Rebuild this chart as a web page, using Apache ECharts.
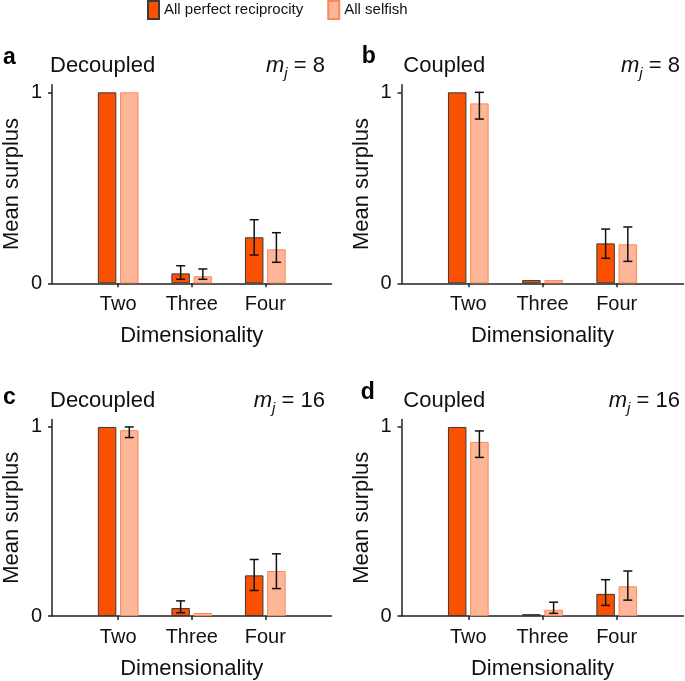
<!DOCTYPE html>
<html>
<head>
<meta charset="utf-8">
<script src="https://cdn.jsdelivr.net/npm/echarts@6/dist/echarts.min.js"></script>
<style>
  html, body { margin: 0; padding: 0; background: #fff; }
  #chart { width: 685px; height: 681px; }
</style>
</head>
<body>
<div id="chart"></div>
<script>
// ---------------- data ----------------
const categories = ['Two', 'Three', 'Four'];
const catPos = [1, 2, 3];
const seriesNames = ['All perfect reciprocity', 'All selfish'];

// panel a  (Decoupled, m_j = 8)
const aRecip     = [1.000, 0.052, 0.241];
const aRecipLow  = [null,  0.021, 0.148];
const aRecipHigh = [null,  0.092, 0.333];
const aSelf      = [1.000, 0.037, 0.178];
const aSelfLow   = [null,  0.021, 0.110];
const aSelfHigh  = [null,  0.075, 0.265];

// panel b  (Coupled, m_j = 8)
const bRecip     = [1.000, 0.017, 0.209];
const bRecipLow  = [null,  null,  0.131];
const bRecipHigh = [null,  null,  0.284];
const bSelf      = [0.942, 0.017, 0.204];
const bSelfLow   = [0.860, null,  0.115];
const bSelfHigh  = [1.000, null,  0.295];

// panel c  (Decoupled, m_j = 16)
const cRecip     = [1.000, 0.042, 0.215];
const cRecipLow  = [null,  0.017, 0.135];
const cRecipHigh = [null,  0.080, 0.299];
const cSelf      = [0.983, 0.016, 0.238];
const cSelfLow   = [0.944, null,  0.145];
const cSelfHigh  = [1.000, null,  0.329];

// panel d  (Coupled, m_j = 16)
const dRecip     = [1.000, 0.010, 0.117];
const dRecipLow  = [null,  null,  0.056];
const dRecipHigh = [null,  null,  0.192];
const dSelf      = [0.921, 0.033, 0.157];
const dSelfLow   = [0.839, 0.014, 0.084];
const dSelfHigh  = [0.979, 0.073, 0.238];

const panelLetters = ['a', 'b', 'c', 'd'];
const panelConditions = ['Decoupled', 'Coupled', 'Decoupled', 'Coupled'];
const panelMj = ['8', '8', '16', '16'];
const yTickValues = [0, 1];

const panels = [
  { recip: aRecip, recipLow: aRecipLow, recipHigh: aRecipHigh, self: aSelf, selfLow: aSelfLow, selfHigh: aSelfHigh },
  { recip: bRecip, recipLow: bRecipLow, recipHigh: bRecipHigh, self: bSelf, selfLow: bSelfLow, selfHigh: bSelfHigh },
  { recip: cRecip, recipLow: cRecipLow, recipHigh: cRecipHigh, self: cSelf, selfLow: cSelfLow, selfHigh: cSelfHigh },
  { recip: dRecip, recipLow: dRecipLow, recipHigh: dRecipHigh, self: dSelf, selfLow: dSelfLow, selfHigh: dSelfHigh }
];

// ---------------- style / layout ----------------
const FONT = '"Liberation Sans", Arial, Helvetica, sans-serif';
const TXT = '#111';
const AX = '#222';
const DARK = '#FB5000';
const DARK_BORDER = '#3a3a3a';
const LIGHT = '#FDB698';
const LIGHT_BORDER = '#F98A58';
const BAR_W = 18.5;
const BAR_GAP = 0.2;
const BAR_OFFSET = (BAR_W * (1 + BAR_GAP)) / 2;
const CAP = 4.5;

const gridDefs = [
  { left: 49.5,  top: 84.7,  width: 282, height: 198.6 },
  { left: 401.5, top: 84.7,  width: 282, height: 198.6 },
  { left: 49.5,  top: 419.4, width: 282, height: 198.3 },
  { left: 401.5, top: 419.4, width: 282, height: 198.3 }
];

const titlePos = [
  { letter: [3, 57.5],     cond: [50, 66],     mj: [325, 66] },
  { letter: [361.7, 56.5], cond: [403.3, 66],  mj: [680, 66] },
  { letter: [3, 397.5],    cond: [50, 401],    mj: [325, 401] },
  { letter: [360.7, 393],  cond: [403.3, 401], mj: [680, 401] }
];

function renderErr(params, api) {
  const x = api.value(0), lo = api.value(1), hi = api.value(2), side = api.value(3);
  const pTop = api.coord([x, hi]);
  const pBot = api.coord([x, lo]);
  const cx = pTop[0] + side * BAR_OFFSET;
  const st = { stroke: '#111', lineWidth: 1.5 };
  return {
    type: 'group',
    children: [
      { type: 'line', shape: { x1: cx, y1: pTop[1], x2: cx, y2: pBot[1] }, style: st },
      { type: 'line', shape: { x1: cx - CAP, y1: pTop[1], x2: cx + CAP, y2: pTop[1] }, style: st },
      { type: 'line', shape: { x1: cx - CAP, y1: pBot[1], x2: cx + CAP, y2: pBot[1] }, style: st }
    ]
  };
}

const grid = [], xAxis = [], yAxis = [], series = [], graphic = [];

panels.forEach((p, i) => {
  grid.push(Object.assign({ containLabel: false }, gridDefs[i]));
  xAxis.push({
    type: 'value', gridIndex: i, min: 0.1, max: 3.9,
    splitLine: { show: false },
    axisLine: { show: true, lineStyle: { color: AX, width: 1.5 } },
    axisTick: { show: true, customValues: catPos, length: 4, lineStyle: { color: AX, width: 1.5 } },
    axisLabel: {
      customValues: catPos, margin: 11,
      formatter: v => categories[catPos.indexOf(Math.round(v))] || '',
      fontSize: 20, fontFamily: FONT, color: TXT
    },
    name: 'Dimensionality', nameLocation: 'middle', nameGap: 42,
    nameTextStyle: { fontSize: 22, fontFamily: FONT, color: TXT }
  });
  yAxis.push({
    type: 'value', gridIndex: i, min: 0, max: 1.04,
    splitLine: { show: false },
    axisLine: { show: true, lineStyle: { color: AX, width: 1.5 } },
    axisTick: { show: true, customValues: yTickValues, length: 4, lineStyle: { color: AX, width: 1.5 } },
    axisLabel: { customValues: yTickValues, margin: 10, fontSize: 20, fontFamily: FONT, color: TXT },
    name: 'Mean surplus', nameLocation: 'middle', nameGap: 29,
    nameTextStyle: { fontSize: 22, fontFamily: FONT, color: TXT }
  });

  series.push({
    type: 'bar', name: seriesNames[0], xAxisIndex: i, yAxisIndex: i,
    barWidth: BAR_W, barGap: (BAR_GAP * 100) + '%',
    data: catPos.map((x, k) => [x, p.recip[k]]),
    itemStyle: { color: DARK, borderColor: DARK_BORDER, borderWidth: 1 },
    silent: true
  });
  series.push({
    type: 'bar', name: seriesNames[1], xAxisIndex: i, yAxisIndex: i,
    barWidth: BAR_W, barGap: (BAR_GAP * 100) + '%',
    data: catPos.map((x, k) => [x, p.self[k]]),
    itemStyle: { color: LIGHT, borderColor: LIGHT_BORDER, borderWidth: 1 },
    silent: true
  });
  const errData = [];
  catPos.forEach((x, k) => {
    if (p.recipLow[k] != null) errData.push([x, p.recipLow[k], p.recipHigh[k], -1]);
    if (p.selfLow[k] != null) errData.push([x, p.selfLow[k], p.selfHigh[k], 1]);
  });
  series.push({
    type: 'custom', xAxisIndex: i, yAxisIndex: i, z: 10, silent: true,
    renderItem: renderErr, data: errData,
    encode: { x: 0, y: [1, 2] }
  });

  const tp = titlePos[i];
  graphic.push({
    type: 'text', x: tp.letter[0], y: tp.letter[1],
    style: { text: panelLetters[i], fontSize: 23, fontWeight: 'bold', fontFamily: FONT, fill: '#000', align: 'left', verticalAlign: 'middle' }
  });
  graphic.push({
    type: 'text', x: tp.cond[0], y: tp.cond[1],
    style: { text: panelConditions[i], fontSize: 22, fontFamily: FONT, fill: TXT, align: 'left', verticalAlign: 'middle' }
  });
  graphic.push({
    type: 'text', x: tp.mj[0], y: tp.mj[1],
    style: {
      text: '{it|m}{sub|j}{n| = ' + panelMj[i] + '}',
      fontSize: 22, fontFamily: FONT, fill: TXT, align: 'right', verticalAlign: 'middle',
      rich: {
        it: { fontSize: 22, fontStyle: 'italic', fontFamily: FONT, fill: TXT, lineHeight: 30 },
        sub: { fontSize: 15, fontStyle: 'italic', fontFamily: FONT, fill: TXT, lineHeight: 14, verticalAlign: 'bottom' },
        n: { fontSize: 22, fontFamily: FONT, fill: TXT, lineHeight: 30 }
      }
    }
  });
});

const chart = echarts.init(document.getElementById('chart'), null, { renderer: 'canvas' });
chart.setOption({
  animation: false,
  backgroundColor: '#fff',
  legend: {
    data: seriesNames, left: 147, top: 0, padding: 0,
    icon: 'rect', itemWidth: 11, itemHeight: 18, itemGap: 24,
    textStyle: { fontSize: 15, fontFamily: FONT, color: TXT }
  },
  grid, xAxis, yAxis, series, graphic
});
</script>
</body>
</html>
